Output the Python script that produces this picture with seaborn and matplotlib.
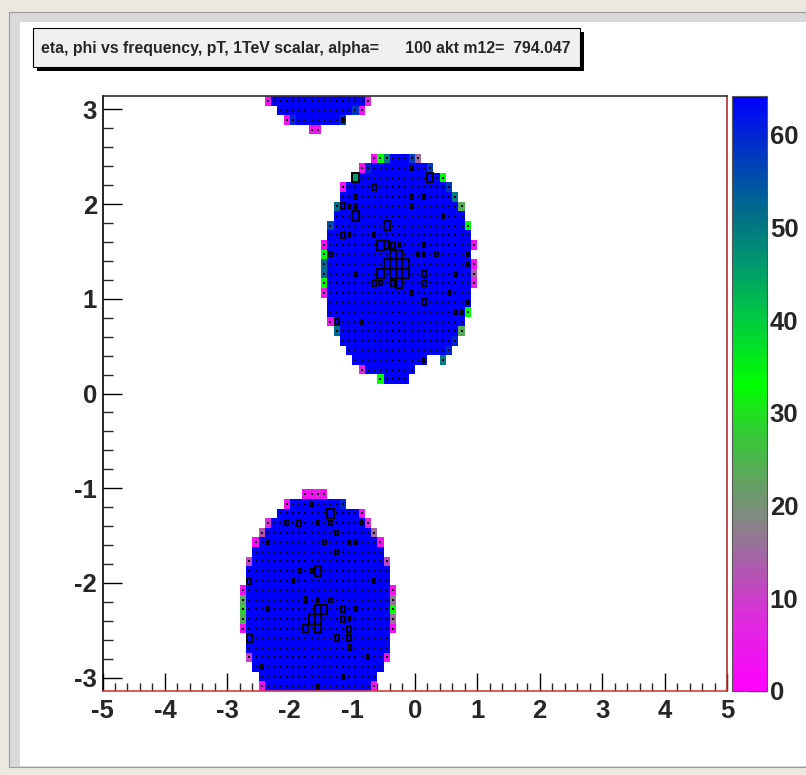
import numpy as np
import pandas as pd
import matplotlib
matplotlib.use("Agg")
import matplotlib.pyplot as plt
import seaborn as sns
from matplotlib.colors import LinearSegmentedColormap
from matplotlib.patches import Rectangle

# ---------------- data ----------------
TITLE = "eta, phi vs frequency, pT, 1TeV scalar, alpha=      100 akt m12=  794.047"
ETA_MIN, ETA_MAX, N_ETA = -5.0, 5.0, 100
PHI_MIN, PHI_MAX, N_PHI = -np.pi, np.pi, 62
Z_MAX = 64.2
X_TICKS = [-5, -4, -3, -2, -1, 0, 1, 2, 3, 4, 5]
Y_TICKS = [-3, -2, -1, 0, 1, 2, 3]
Z_TICKS = [0, 10, 20, 30, 40, 50, 60]

# occupied runs of cells: phi-bin row, first eta-bin, last eta-bin
run_row = [55, 54, 53, 52, 51, 50, 49, 48, 47, 46, 45, 44, 43, 42, 41, 40, 39, 38, 37, 36, 35, 34, 34, 33, 32,
           61, 60, 59, 58,
           20, 19, 18, 17, 16, 15, 14, 13, 12, 11, 10, 9, 8, 7, 6, 5, 4, 3, 2, 1, 0]
run_first = [43, 41, 40, 38, 38, 37, 37, 36, 36, 35, 35, 35, 35, 35, 35, 36, 36, 36, 37, 38, 39, 40, 54, 41, 44,
             26, 28, 29, 33,
             32, 29, 28, 26, 25, 24, 24, 23, 23, 23, 22, 22, 22, 22, 22, 23, 23, 23, 24, 25, 25]
run_last = [50, 52, 54, 55, 56, 57, 57, 58, 58, 59, 58, 59, 59, 59, 58, 58, 58, 57, 57, 56, 55, 51, 54, 49, 48,
            42, 41, 38, 34,
            35, 38, 41, 42, 43, 44, 44, 45, 45, 45, 46, 46, 46, 46, 46, 45, 45, 45, 44, 43, 43]
FREQ_BULK = 70.0   # saturated (blue) cells

# cells whose frequency is below the colour-scale top
edge_row = [55, 55, 55, 55, 55, 54, 54, 54, 53, 53, 52, 52, 51, 50, 50, 48, 48, 46, 46, 45, 44, 44, 43, 43,
            42, 42, 41, 39, 38, 37, 37, 36, 35, 34, 33, 32,
            61, 61, 60, 60, 59, 59, 59, 58, 58,
            20, 20, 20, 20, 19, 19, 18, 17, 17, 16, 16, 15, 15, 13, 13, 10, 10, 9, 9, 8, 8, 7, 7, 6, 6,
            3, 3, 0, 0]
edge_col = [43, 44, 45, 49, 50, 41, 42, 52, 40, 54, 38, 55, 56, 37, 57, 36, 58, 35, 59, 35, 35, 59, 35, 59,
            35, 59, 35, 58, 36, 37, 57, 56, 55, 54, 41, 44,
            26, 42, 40, 41, 29, 30, 38, 33, 34,
            32, 33, 34, 35, 29, 38, 41, 26, 42, 25, 43, 24, 44, 23, 45, 22, 46, 22, 46, 22, 46, 22, 46, 22, 46,
            23, 45, 25, 43]
edge_freq = [2, 33, 50, 57, 15, 3, 60, 58, 46, 33, 3, 58, 50, 52, 24, 55, 33, 2, 3, 33, 52, 3, 52, 14,
             33, 6, 5, 33, 3, 52, 24, 60, 60, 50, 6, 33,
             3, 6, 58, 3, 3, 60, 58, 3, 3,
             3, 3, 6, 3, 3, 60, 3, 8, 8, 13, 15, 3, 3, 11, 11, 3, 3, 24, 17, 28, 33, 25, 15, 3, 3,
             10, 4, 3, 4]

# pT boxes (relative size)
PT_BULK = 8.0
PT_MAX = 100.0
box_row = [54, 53, 53, 52, 51, 51, 51, 50, 50, 50, 50, 49, 49, 48, 47, 47, 47,
           46, 46, 46, 46, 46, 45, 45, 45, 45, 45, 45, 45, 44, 44, 44, 44, 44,
           43, 43, 43, 43, 43, 43, 43, 42, 42, 42, 42, 42, 41, 41, 40, 40, 39, 39, 38, 38, 34,
           59, 19, 18, 17, 17, 17, 17, 17, 16, 15, 15, 15, 15, 14, 12, 12, 12, 11, 11, 11,
           9, 9, 9, 8, 8, 8, 8, 8, 7, 7, 7, 7, 6, 6, 6, 5, 5, 5, 4, 3, 2, 1, 0]
box_col = [49, 40, 52, 43, 40, 49, 51, 38, 39, 40, 49, 40, 54, 45, 38, 39, 43,
           44, 45, 46, 47, 51, 36, 46, 47, 50, 51, 53, 58, 45, 46, 47, 48, 58,
           40, 44, 46, 47, 48, 51, 56, 43, 44, 46, 47, 51, 49, 55, 51, 58, 56, 57, 37, 41, 51,
           38, 33, 36, 29, 31, 34, 36, 41, 37, 26, 35, 39, 40, 37, 31, 33, 34, 23, 30, 43,
           32, 34, 36, 26, 34, 35, 38, 40, 33, 34, 38, 39, 32, 34, 39, 23, 37, 39, 39, 42, 25, 38, 34]
box_pt = [42, 100, 100, 62, 42, 42, 42, 62, 42, 42, 42, 100, 42, 100, 62, 42, 42,
          100, 80, 62, 42, 42, 42, 100, 100, 42, 42, 42, 42, 100, 100, 100, 100, 42,
          42, 100, 100, 100, 100, 62, 42, 62, 42, 62, 100, 62, 42, 42, 62, 42, 42, 42, 62, 42, 42,
          42, 42, 100, 42, 62, 42, 42, 42, 42, 42, 42, 42, 42, 42, 42, 42, 100, 62, 42, 42,
          62, 42, 42, 42, 100, 100, 62, 42, 100, 100, 62, 42, 80, 100, 62, 80, 62, 62, 52, 42, 42, 42, 42]

# ---------------- build tables ----------------
freq = np.full((N_PHI, N_ETA), np.nan)
pt = np.full((N_PHI, N_ETA), np.nan)
for r, a, b in zip(run_row, run_first, run_last):
    freq[r, a:b + 1] = FREQ_BULK
    pt[r, a:b + 1] = PT_BULK
for r, c, v in zip(edge_row, edge_col, edge_freq):
    freq[r, c] = v
for r, c, v in zip(box_row, box_col, box_pt):
    pt[r, c] = v
freq_df = pd.DataFrame(freq)

# ---------------- style ----------------
sns.set_style("white")
plt.rcParams["font.family"] = ["Liberation Sans", "DejaVu Sans"]

W, H = 806, 775
fig = plt.figure(figsize=(W / 100, H / 100), dpi=100)
fig.patch.set_facecolor("#ebe8e1")


def fx(x):
    return x / W


def fy(y):
    return 1 - y / H


# ROOT canvas panel with bevel on top/left
fig.add_artist(Rectangle((fx(9), fy(767)), fx(806 - 9), (767 - 12) / H, transform=fig.transFigure,
                         facecolor="#d9d9d9", edgecolor="#9c9c9c", lw=0.8, zorder=0))
fig.add_artist(Rectangle((fx(20), fy(766)), fx(806 - 20), (766 - 22) / H, transform=fig.transFigure,
                         facecolor="white", edgecolor="none", zorder=0))

# title box with shadow
fig.add_artist(Rectangle((fx(37), fy(71)), fx(547), 39 / H, transform=fig.transFigure,
                         facecolor="black", edgecolor="none", zorder=1))
fig.add_artist(Rectangle((fx(33), fy(67)), fx(547), 39 / H, transform=fig.transFigure,
                         facecolor="#f0f0f0", edgecolor="black", lw=0.8, zorder=2))
fig.text(fx(41), fy(48), TITLE, fontsize=11.4, fontweight="bold", ha="left", va="center", zorder=3)

ax = fig.add_axes([fx(102.5), fy(691), fx(727 - 102.5), (691 - 96) / H])
cax = fig.add_axes([fx(731.5), fy(691), fx(767 - 731.5), (691 - 96) / H])

nodes = [(0, (1.0, 0.0, 1.0)), (8, (0.86, 0.18, 0.86)), (14, (0.66, 0.38, 0.66)),
         (18, (0.53, 0.52, 0.53)), (22, (0.40, 0.62, 0.40)), (28, (0.20, 0.80, 0.20)),
         (33, (0.0, 1.0, 0.0)), (40, (0.0, 0.80, 0.25)), (46, (0.0, 0.60, 0.42)),
         (52, (0.0, 0.42, 0.55)), (58, (0.0, 0.22, 0.75)), (Z_MAX, (0.0, 0.0, 1.0))]
cmap = LinearSegmentedColormap.from_list("rootpal", [(v / Z_MAX, c) for v, c in nodes])

sns.heatmap(freq_df, ax=ax, cmap=cmap, vmin=0, vmax=Z_MAX, cbar=True, cbar_ax=cax,
            xticklabels=False, yticklabels=False, linewidths=0)

# dots / boxes for pT
rows, cols = np.nonzero(~np.isnan(pt))
frac = pt[rows, cols] / PT_MAX
small = frac < 0.3
dots = pd.DataFrame({"x": cols[small] + 0.5, "y": rows[small] + 0.5})
sns.scatterplot(data=dots, x="x", y="y", marker="s", s=3.8, color="black", linewidth=0, ax=ax, legend=False)
for r, c, f in zip(rows[~small], cols[~small], frac[~small]):
    ax.add_patch(Rectangle((c + 0.5 - f / 2, r + 0.5 - f / 2), f, f, fill=False,
                           edgecolor="black", lw=1.4, zorder=5))

ax.set_xlim(0, N_ETA)
ax.set_ylim(0, N_PHI)
ax.set_xlabel("")
ax.set_ylabel("")
ax.set_facecolor("white")

eta_step = (ETA_MAX - ETA_MIN) / N_ETA
phi_step = (PHI_MAX - PHI_MIN) / N_PHI


def ex(e):
    return (np.asarray(e) - ETA_MIN) / eta_step


def py(p):
    return (np.asarray(p) - PHI_MIN) / phi_step


LBL = 18.5
ax.set_xticks(ex(X_TICKS))
ax.set_xticklabels([str(t) for t in X_TICKS], fontweight="bold", fontsize=LBL)
ax.set_yticks(py(Y_TICKS))
ax.set_yticklabels([str(t) for t in Y_TICKS], fontweight="bold", fontsize=LBL, rotation=0)
xm = np.round(np.arange(ETA_MIN, ETA_MAX + 1e-9, 0.2), 2)
ax.set_xticks(ex(xm), minor=True)
ym = np.round(np.arange(-3.2, 3.21, 0.2), 2)
ym = ym[(ym > PHI_MIN) & (ym < PHI_MAX)]
ax.set_yticks(py(ym), minor=True)
ax.tick_params(axis="x", which="major", direction="in", length=13, width=1.0, pad=6,
               bottom=True, top=False, color="black")
ax.tick_params(axis="x", which="minor", direction="in", length=6, width=1.0, bottom=True, top=False)
ax.tick_params(axis="y", which="major", direction="in", length=14, width=1.0, pad=4,
               left=True, right=False, color="black")
ax.tick_params(axis="y", which="minor", direction="in", length=7, width=1.0, left=True, right=False)

for name, sp in ax.spines.items():
    sp.set_visible(True)
    sp.set_linewidth(1.2)
ax.spines["left"].set_color("black")
ax.spines["top"].set_color("#333333")
ax.spines["right"].set_color("#b03030")
ax.spines["bottom"].set_color("#d04040")

cbar = ax.collections[0].colorbar
cbar.set_ticks(Z_TICKS)
cax.yaxis.set_ticks_position("right")
cax.set_yticklabels([str(t) for t in Z_TICKS], fontweight="bold", fontsize=LBL)
cax.tick_params(axis="y", which="major", direction="in", length=13.5, width=1.0, pad=2, color="black")
cax.minorticks_off()
cbar.outline.set_edgecolor("#555555")
cbar.outline.set_linewidth(0.8)

fig.savefig("out.png", dpi=100, facecolor=fig.get_facecolor())
